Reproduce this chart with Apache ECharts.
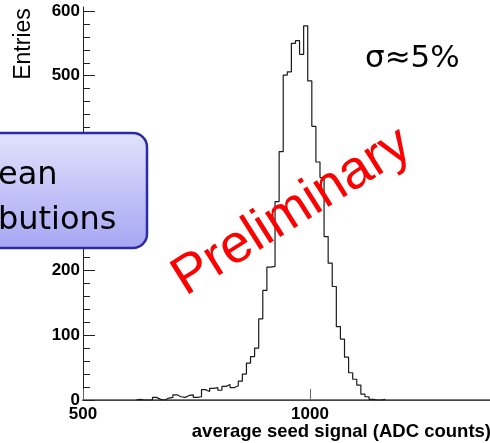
<!DOCTYPE html>
<html>
<head>
<meta charset="utf-8">
<script src="https://cdn.jsdelivr.net/npm/echarts@6/dist/echarts.min.js"></script>
<style>
  html, body { margin: 0; padding: 0; background: #fff; }
  #chart { width: 490px; height: 443px; }
</style>
</head>
<body>
<div id="chart"></div>
<script>
// histogram: average seed signal, bins of 9 ADC counts starting at 617
const binStart = 617
const binWidth = 9
const counts = [1, 0, 0, 0, 4, 1, 0, 3, 4, 8, 5, 4, 7, 8, 4, 5, 16, 13, 18, 19,
  15, 21, 24, 19, 22, 29, 40, 57, 67, 80, 125, 169, 205, 206, 306, 383, 501, 506,
  550, 554, 533, 577, 492, 422, 367, 343, 252, 211, 175, 113, 94, 66, 42, 32, 23,
  9, 5, 1, 0, 0, 1]

const xTicks = [500, 1000, 1500]
const yMajor = [0, 100, 200, 300, 400, 500, 600]
const yMinorStep = 20
const yMax = 606

const labelFont = '"Liberation Sans", Arial, sans-serif'

// step outline points: left edge of every bin, closed back to zero
const outline = [[binStart, 0]]
counts.forEach((c, i) => outline.push([binStart + i * binWidth, c]))
outline.push([binStart + counts.length * binWidth, 0])

const yMinor = []
yMajor.forEach((v) => {
  for (let k = yMinorStep; k < 100; k += yMinorStep) {
    if (v + k < yMax) yMinor.push(v + k)
  }
})

const chart = echarts.init(document.getElementById('chart'))
chart.setOption({
  animation: false,
  backgroundColor: '#ffffff',
  grid: { left: 83, top: 7, right: -47, bottom: 43, outerBoundsMode: 'none', containLabel: false },
  xAxis: [
    {
      type: 'value', min: 500, max: 1500,
      axisLine: { lineStyle: { color: '#7a7a7a', width: 2 } },
      axisTick: { inside: true, length: 11, customValues: xTicks, lineStyle: { color: '#666' } },
      axisLabel: {
        customValues: xTicks, margin: 6, color: '#000', formatter: (v) => String(v),
        fontSize: 17, fontWeight: 'bold', fontFamily: labelFont
      },
      splitLine: { show: false }
    },
    {
      type: 'value', min: 500, max: 1500, position: 'top',
      axisLine: { lineStyle: { color: '#444', width: 1 } },
      axisTick: { show: false }, axisLabel: { show: false }, splitLine: { show: false }
    }
  ],
  yAxis: [
    {
      type: 'value', min: 0, max: yMax,
      axisLine: { show: true, lineStyle: { color: '#222', width: 1 } },
      axisTick: { inside: true, length: 12, customValues: yMajor, lineStyle: { color: '#222' } },
      axisLabel: {
        customValues: yMajor, margin: 3, color: '#000', formatter: (v) => String(v),
        fontSize: 17, fontWeight: 'bold', fontFamily: labelFont
      },
      splitLine: { show: false }
    },
    {
      type: 'value', min: 0, max: yMax, position: 'left',
      axisLine: { show: false },
      axisTick: { inside: true, length: 7, customValues: yMinor, lineStyle: { color: '#222' } },
      axisLabel: { show: false },
      splitLine: { show: false }
    }
  ],
  series: [
    {
      type: 'line',
      step: 'end',
      showSymbol: false,
      symbol: 'none',
      data: outline,
      lineStyle: { color: '#1a1a1a', width: 1.2 }
    }
  ],
  graphic: [
    {
      type: 'text', z: 100, x: 24, y: 44, rotation: Math.PI / 2,
      style: { text: 'Entries', font: '23px ' + labelFont, fill: '#000', align: 'center', verticalAlign: 'middle' }
    },
    {
      type: 'text', z: 100, x: 365, y: 59,
      style: { text: 'σ≈5%', font: '31px "DejaVu Sans", sans-serif', fill: '#000', align: 'left', verticalAlign: 'middle' }
    },
    {
      type: 'text', z: 100, x: 491, y: 432,
      style: { text: 'average seed signal (ADC counts)', font: 'bold 18.5px ' + labelFont, fill: '#000', align: 'right', verticalAlign: 'middle' }
    },
    {
      type: 'rect', z: 100,
      shape: { x: -120, y: 133, width: 267, height: 115, r: 14 },
      style: {
        fill: new echarts.graphic.LinearGradient(0, 0, 0, 1, [
          { offset: 0, color: '#e2e2fd' },
          { offset: 1, color: '#a6a6f4' }
        ]),
        stroke: '#2b2ba6', lineWidth: 2.5
      }
    },
    {
      type: 'text', z: 101, x: 14, y: 176,
      style: { text: 'Mean', font: '32px "DejaVu Sans", sans-serif', fill: '#000', align: 'center', verticalAlign: 'middle' }
    },
    {
      type: 'text', z: 101, x: 17, y: 221,
      style: { text: 'distributions', font: '32px "DejaVu Sans", sans-serif', fill: '#000', align: 'center', verticalAlign: 'middle' }
    },
    {
      type: 'text', z: 102, x: 292, y: 212, rotation: 0.56,
      style: { text: 'Preliminary', font: '54px ' + labelFont, fill: '#ff0000', align: 'center', verticalAlign: 'middle' }
    }
  ]
})
</script>
</body>
</html>
